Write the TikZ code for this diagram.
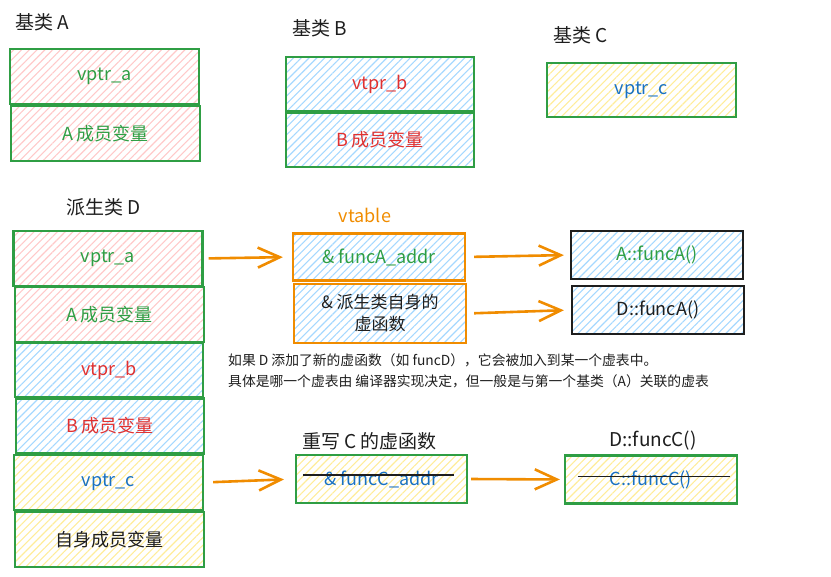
\documentclass[tikz,border=0pt]{standalone}
\usepackage{fontspec}
\setmainfont{Noto Sans CJK SC}
\usepackage{tikz}
\usetikzlibrary{positioning, arrows.meta, patterns.meta}
\definecolor{exgreen}{HTML}{2F9E44}
\definecolor{exred}{HTML}{E03131}
\definecolor{exblue}{HTML}{1971C2}
\definecolor{exorange}{HTML}{F08C00}
\definecolor{exink}{HTML}{1E1E1E}
\definecolor{hpink}{HTML}{FFC9C9}
\definecolor{hblue}{HTML}{A5D8FF}
\definecolor{hyellow}{HTML}{FFEC99}
\tikzset{cell/.style = {draw=exgreen,line width=2.2pt,minimum width=189pt,minimum height=55pt,inner sep=0pt,font=\fontsize{18}{21}\selectfont},
         slot/.style = {cell,draw=exorange,minimum width=172pt,minimum height=48pt},
         fn/.style = {cell,draw=exink,minimum width=172pt,minimum height=48pt},
         pinkhatch/.style = {pattern={Lines[angle=45,distance=5.5pt,line width=1.1pt]},pattern color=hpink},
         bluehatch/.style = {pattern={Lines[angle=45,distance=5.5pt,line width=1.1pt]},pattern color=hblue},
         yellowhatch/.style = {pattern={Lines[angle=45,distance=5.5pt,line width=1.1pt]},pattern color=hyellow},
         title/.style = {anchor=west,inner sep=0pt,text=exink,font=\fontsize{19}{22}\selectfont},
         note/.style = {anchor=west,inner sep=0pt,text=exink,font=\fontsize{13.8}{16}\selectfont},
         arr/.style = {draw=exorange,line width=2.6pt,-{Straight Barb[length=22pt,width=20pt]}},
         strike/.style = {draw=exink,line width=1.6pt}}

\begin{document}
\begin{tikzpicture}[x=1pt,y=-1pt]
                    \useasboundingbox (0,0) rectangle (831,577);
                    % base classes
                    \node[title] (tA) at (15,22) {基类 A};
                    \node[cell,pinkhatch,text=exgreen] (a1) at (104.5,76.5) {vptr\_a};
                    \node[cell,pinkhatch,text=exgreen] (a2) at (105.5,133.5) {A 成员变量};
                    \node[title] (tB) at (292,28) {基类 B};
                    \node[cell,bluehatch,text=exred,minimum width=188pt,minimum height=54pt] (b1) at (380,84) {vtpr\_b};
                    \node[cell,bluehatch,text=exred,minimum width=188pt,minimum height=54pt] (b2) at (380,140) {B 成员变量};
                    \node[title] (tC) at (553,35) {基类 C};
                    \node[cell,yellowhatch,text=exblue,minimum height=54pt] (c1) at (641.5,90) {vptr\_c};
                    % derived class
                    \node[title] (tD) at (66,207) {派生类 D};
                    \node[cell,pinkhatch,text=exgreen] (d1) at (108,258.5) {vptr\_a};
                    \node[cell,pinkhatch,text=exgreen] (d2) at (109.5,314.5) {A 成员变量};
                    \node[cell,bluehatch,text=exred,minimum width=188pt,minimum height=54pt] (d3) at (109,370) {vtpr\_b};
                    \node[cell,bluehatch,text=exred,minimum width=188pt] (d4) at (110,426) {B 成员变量};
                    \node[cell,yellowhatch,text=exblue] (d5) at (108.5,482.5) {vptr\_c};
                    \node[cell,yellowhatch,text=exink] (d6) at (109.5,539.5) {自身成员变量};
                    % vtable
                    \node[anchor=center,inner sep=0pt,text=exorange,font=\fontsize{18}{21}\selectfont] (tvt) at (365,215) {vtable};
                    \node[slot,bluehatch,text=exgreen,minimum height=47pt] (vt1) at (379,257) {\& funcA\_addr};
                    \node[slot,bluehatch,text=exink,minimum height=59pt,align=center,font=\fontsize{17}{22}\selectfont] (vt2) at (380,313.5) {\& 派生类自身的\\虚函数};
                    \node[fn,bluehatch,text=exgreen] (fa) at (657,255) {A::funcA()};
                    \node[fn,bluehatch,text=exink] (fd) at (658,310) {D::funcA()};
                    \node[note] (n1) at (228,360) {如果 D 添加了新的虚函数（如 funcD），它会被加入到某一个虚表中。};
                    \node[note] (n2) at (228,381) {具体是哪一个虚表由 编译器实现决定，但一般是与第一个基类（A）关联的虚表};
                    % override of C
                    \node[title] (tvc) at (302,441) {重写 C 的虚函数};
                    \node[slot,yellowhatch,draw=exgreen,text=exblue,minimum width=171pt] (vc) at (381.5,479) {\& funcC\_addr};
                    \node[anchor=center,inner sep=0pt,text=exink,font=\fontsize{19}{22}\selectfont] (tfc) at (653,441) {D::funcC()};
                    \node[fn,yellowhatch,draw=exgreen,text=exblue] (fc) at (651,479.5) {C::funcC()};
                    \draw[strike] ([xshift=8pt,yshift=4pt]vc.west) to ([xshift=-14pt,yshift=4pt]vc.east);
                    \draw[strike] ([xshift=14pt,yshift=3pt]fc.west) to ([xshift=-8pt,yshift=3pt]fc.east);
                    % pointers
                    \draw[arr,shorten <=5pt,shorten >=9pt] (d1.east) to (vt1.west);
                    \draw[arr,shorten <=8pt,shorten >=6pt] (vt1.east) to (fa.west);
                    \draw[arr,shorten <=7pt,shorten >=7pt] (vt2.east) to (fd.west);
                    \draw[arr,shorten <=9pt,shorten >=11pt] (d5.east) to (vc.west);
                    \draw[arr,shorten <=3pt,shorten >=4pt] (vc.east) to (fc.west);
                \end{tikzpicture}
\end{document}
